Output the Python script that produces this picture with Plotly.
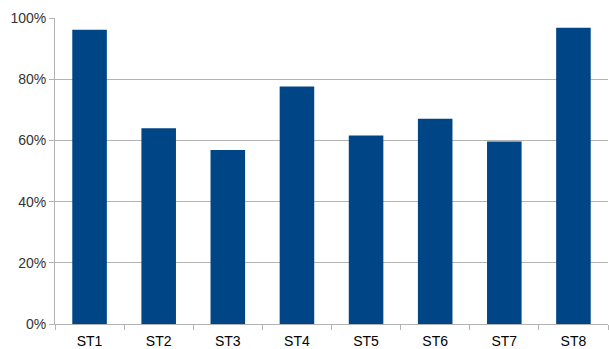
import plotly.graph_objects as go

categories = ["ST1", "ST2", "ST3", "ST4", "ST5", "ST6", "ST7", "ST8"]
values = [0.962, 0.640, 0.569, 0.776, 0.616, 0.671, 0.596, 0.968]
y_ticks = [0, 0.2, 0.4, 0.6, 0.8, 1.0]
y_tick_labels = ["0%", "20%", "40%", "60%", "80%", "100%"]

fig = go.Figure(go.Bar(
    x=categories, y=values,
    marker=dict(color="#004586", line=dict(width=0)),
    width=0.5,
))

fig.update_layout(
    width=609, height=349,
    margin=dict(l=55, r=1, t=18, b=25),
    paper_bgcolor="white", plot_bgcolor="white",
    font=dict(family="Liberation Sans", size=13, color="#333333"),
    showlegend=False,
    xaxis=dict(
        showline=True, linecolor="#b3b3b3", linewidth=1,
        ticks="outside", ticklen=5, tickcolor="#b3b3b3",
        tickson="boundaries", showgrid=False,
        tickfont=dict(size=14, color="#000000"),
        ticklabelstandoff=4,
        range=[-0.5, 7.5],
    ),
    yaxis=dict(
        range=[0, 1.0],
        tickvals=y_ticks, ticktext=y_tick_labels,
        showgrid=True, gridcolor="#b3b3b3", gridwidth=1,
        showline=True, linecolor="#b3b3b3", linewidth=1,
        ticks="outside", ticklen=5, tickcolor="#b3b3b3",
        zeroline=False,
        tickfont=dict(size=14, color="#333333"),
    ),
)

fig.write_html("out.html")
